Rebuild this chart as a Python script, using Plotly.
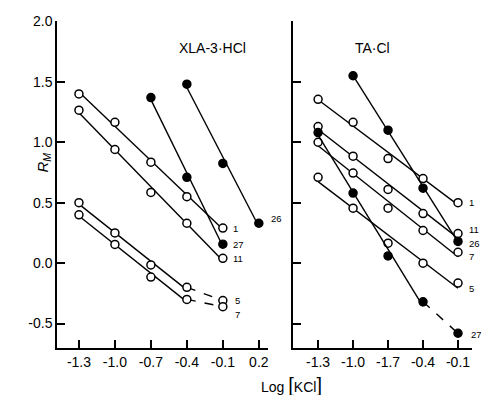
import numpy as np
import plotly.graph_objects as go

# ---------------- data ----------------
x_levels = [-1.3, -1.0, -0.7, -0.4, -0.1]

# Left panel: XLA-3·HCl
xla_1_y = [1.40, 1.165, 0.835, 0.55, 0.29]
xla_11_y = [1.265, 0.94, 0.585, 0.33, 0.04]
xla_27_x = [-0.7, -0.4, -0.1]
xla_27_y = [1.37, 0.71, 0.157]
xla_26_x = [-0.4, -0.1, 0.2]
xla_26_y = [1.48, 0.825, 0.33]
xla_5_y = [0.50, 0.25, -0.015, -0.20, -0.31]
xla_7_y = [0.40, 0.155, -0.115, -0.30, -0.36]

# Right panel: TA·Cl
ta_1_y = [1.355, 1.165, 0.865, 0.70, 0.50]
ta_11_y = [1.13, 0.885, 0.61, 0.41, 0.245]
ta_26_x = [-1.0, -0.7, -0.4, -0.1]
ta_26_y = [1.55, 1.10, 0.62, 0.18]
ta_7_y = [1.0, 0.745, 0.455, 0.27, 0.09]
ta_5_y = [0.71, 0.455, 0.165, 0.0, -0.165]
ta_27_y = [1.08, 0.58, 0.06, -0.32, -0.58]

left_xticks = [-1.3, -1.0, -0.7, -0.4, -0.1, 0.2]
left_xticktext = ["-1.3", "-1.0", "-0.7", "-0.4", "-0.1", "0.2"]
right_xticks = [-1.3, -1.0, -0.7, -0.4, -0.1]
right_xticktext = ["-1.3", "-1.0", "-1.7", "-0.4", "-0.1"]
yticks = [2.0, 1.5, 1.0, 0.5, 0.0, -0.5]
yticktext = ["2.0", "1.5", "1.0", "0.5", "0.0", "-0.5"]

# (name, x, y, filled, dashed_last, label_xshift, label_yshift, panel)
series = [
    ("1", x_levels, xla_1_y, False, False, 8, 0, 1),
    ("11", x_levels, xla_11_y, False, False, 8, 0, 1),
    ("27", xla_27_x, xla_27_y, True, False, 8, 0, 1),
    ("26", xla_26_x, xla_26_y, True, False, 10, 5, 1),
    ("5", x_levels, xla_5_y, False, True, 10, 0, 1),
    ("7", x_levels, xla_7_y, False, True, 10, -8, 1),
    ("1", x_levels, ta_1_y, False, False, 9, 0, 2),
    ("11", x_levels, ta_11_y, False, False, 9, 4, 2),
    ("26", ta_26_x, ta_26_y, True, False, 9, -2, 2),
    ("7", x_levels, ta_7_y, False, False, 9, -4, 2),
    ("5", x_levels, ta_5_y, False, False, 9, -5, 2),
    ("27", x_levels, ta_27_y, True, True, 11, -1, 2),
]

fig = go.Figure()
annotations = []
for name, xs, ys, filled, dashed, lxs, lys, panel in series:
    xa = "x" if panel == 1 else "x2"
    ya = "y" if panel == 1 else "y2"
    xs = np.array(xs, dtype=float)
    ys = np.array(ys, dtype=float)
    n_solid = len(xs) - 1 if dashed else len(xs)
    # fitted straight line through the solid points
    k, b = np.polyfit(xs[:n_solid], ys[:n_solid], 1)
    lx = np.array([xs[0], xs[n_solid - 1]])
    fig.add_trace(go.Scatter(x=lx, y=k * lx + b, mode="lines",
                             line=dict(color="black", width=1.4),
                             xaxis=xa, yaxis=ya, showlegend=False, hoverinfo="skip"))
    if dashed:
        fig.add_trace(go.Scatter(x=xs[-2:], y=ys[-2:], mode="lines",
                                 line=dict(color="black", width=1.4, dash="dash"),
                                 xaxis=xa, yaxis=ya, showlegend=False, hoverinfo="skip"))
    fig.add_trace(go.Scatter(x=xs, y=ys, mode="markers",
                             marker=dict(symbol="circle", size=8,
                                         color="black" if filled else "white",
                                         line=dict(color="black", width=1.5)),
                             xaxis=xa, yaxis=ya, showlegend=False, name=name))
    annotations.append(dict(x=xs[-1], y=ys[-1], xref=xa, yref=ya, text=name,
                            showarrow=False, xanchor="left", yanchor="middle",
                            xshift=lxs, yshift=lys,
                            font=dict(size=9.5, color="black")))

annotations += [
    dict(x=0.289, y=0.948, xref="paper", yref="paper", text="XLA-3·HCl", showarrow=False,
         font=dict(size=14, color="black")),
    dict(x=0.807, y=0.948, xref="paper", yref="paper", text="TA·Cl", showarrow=False,
         font=dict(size=14, color="black")),
    dict(x=-0.06, y=0.566, xref="paper", yref="paper", text="<i>R<sub>M</sub></i>",
         textangle=-90, showarrow=False, font=dict(size=15, color="black")),
    dict(x=0.566, y=-0.113, xref="paper", yref="paper",
         text="Log <span style='font-size:20px'>[</span>KCl<span style='font-size:20px'>]</span>",
         showarrow=False, yanchor="middle", font=dict(size=14, color="black")),
]

axis_common = dict(showline=True, linecolor="black", linewidth=1.5, ticks="inside",
                   ticklen=8, tickwidth=1.5, tickcolor="black", showgrid=False,
                   zeroline=False, tickfont=dict(size=14, color="black"))

fig.update_layout(
    width=481, height=395,
    margin=dict(l=57, r=9, t=21, b=47),
    paper_bgcolor="white", plot_bgcolor="white",
    font=dict(family="Liberation Sans, Arial, sans-serif", color="black"),
    xaxis=dict(domain=[0, 0.508], range=[-1.483, 0.275], tickmode="array",
               tickvals=left_xticks, ticktext=left_xticktext, anchor="y", **axis_common),
    xaxis2=dict(domain=[0.569, 1], range=[-1.514, 0.02], tickmode="array",
                tickvals=right_xticks, ticktext=right_xticktext, anchor="y2", **axis_common),
    yaxis=dict(range=[-0.702, 2.003], tickmode="array", tickvals=yticks,
               ticktext=yticktext, anchor="x", **axis_common),
    yaxis2=dict(range=[-0.702, 2.003], tickmode="array", tickvals=yticks,
                ticktext=yticktext, showticklabels=False, anchor="x2", **axis_common),
    annotations=annotations,
    showlegend=False,
)

fig.write_html("out.html", config={"displayModeBar": False},
               post_script="document.body.style.margin='0';document.body.style.padding='0';")
